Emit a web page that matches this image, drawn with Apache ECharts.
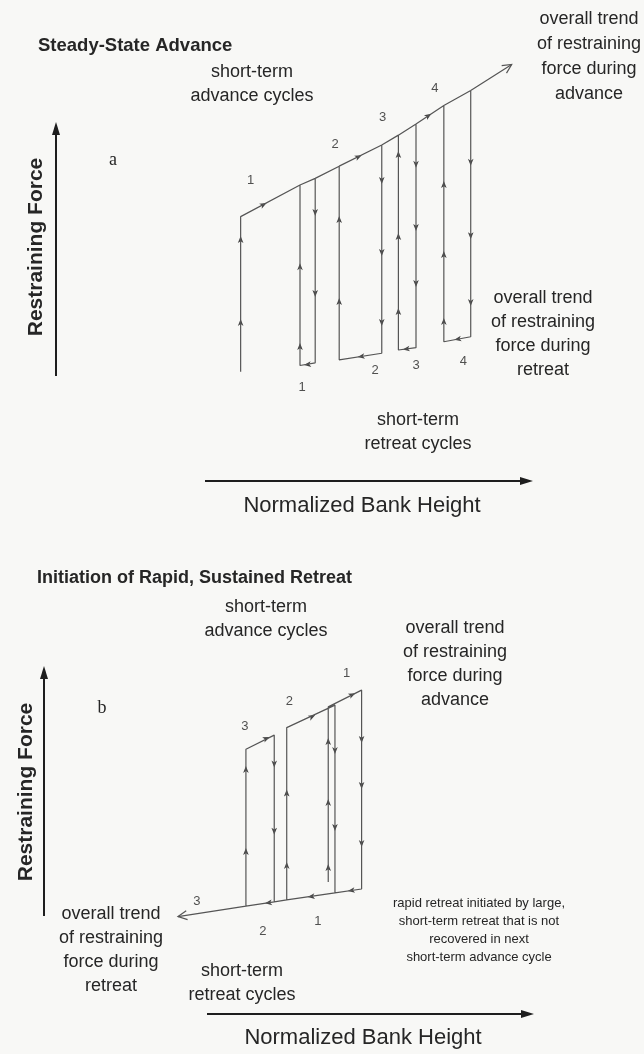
<!DOCTYPE html>
<html>
<head>
<meta charset="utf-8">
<script src="https://cdn.jsdelivr.net/npm/echarts@6/dist/echarts.min.js"></script>
<style>
  html, body { margin: 0; padding: 0; background: #f8f8f6; }
  #chart { width: 644px; height: 1054px; }
</style>
</head>
<body>
<div id="chart"></div>
<script>
// Panel (a) Steady-state advance: bank height (x) vs restraining force (y), arbitrary units 0-100
const pathA = [
  [12.7, 2.5], [12.7, 49.5], [31.25, 59.1], [36.0, 61.1], [36.0, 5.2], [31.25, 4.4],
  [31.25, 59.1], [36.0, 61.1], [43.5, 64.8], [56.8, 71.2], [56.8, 8.1], [43.5, 6.1],
  [43.5, 64.8], [56.8, 71.2], [62.0, 74.2], [67.5, 77.6], [67.5, 9.8], [62.0, 9.1],
  [62.0, 74.2], [67.5, 77.6], [76.2, 83.2], [84.6, 87.7], [84.6, 13.1], [76.2, 11.6],
  [76.2, 83.2], [84.6, 87.7], [97.4, 95.6]
];
// direction markers: [x, y, towardX, towardY]
const arrowsA = [
  [19.7, 53.1, 31.25, 59.1], [49.4, 67.6, 56.8, 71.2], [71.25, 80.0, 76.2, 83.2],
  [12.7, 42.4, 12.7, 49.5], [12.7, 17.3, 12.7, 49.5],
  [31.25, 34.2, 31.25, 59.1], [31.25, 10.0, 31.25, 59.1],
  [36.0, 50.9, 36.0, 5.2], [36.0, 26.4, 36.0, 5.2],
  [43.5, 48.5, 43.5, 64.8], [43.5, 23.6, 43.5, 64.8],
  [56.8, 60.6, 56.8, 8.1], [56.8, 38.8, 56.8, 8.1], [56.8, 17.6, 56.8, 8.1],
  [62.0, 68.2, 62.0, 74.2], [62.0, 43.3, 62.0, 74.2], [62.0, 20.6, 62.0, 74.2],
  [67.5, 65.5, 67.5, 9.8], [67.5, 46.4, 67.5, 9.8], [67.5, 29.4, 67.5, 9.8],
  [76.2, 59.1, 76.2, 83.2], [76.2, 37.9, 76.2, 83.2], [76.2, 17.6, 76.2, 83.2],
  [84.6, 66.1, 84.6, 13.1], [84.6, 43.9, 84.6, 13.1], [84.6, 23.6, 84.6, 13.1],
  [33.75, 4.7, 31.25, 4.4], [50.5, 7.15, 43.5, 6.1], [64.6, 9.43, 62.0, 9.1], [80.7, 12.4, 76.2, 11.6]
];
// open arrow head at the end of the overall trend: [tipX, tipY, fromX, fromY]
const tipsA = [[97.4, 95.6, 84.6, 87.7]];
const cycleLabelsA = [
  ['1', 15.8, 60.6], ['2', 42.2, 71.5], ['3', 57.1, 79.5], ['4', 73.4, 88.4],
  ['1', 31.9, -2.1], ['2', 54.7, 2.8], ['3', 67.5, 4.5], ['4', 82.3, 5.5]
];

// Panel (b) Initiation of rapid, sustained retreat
const pathB = [
  [70.1, 19.3], [70.1, 77.7], [84.0, 83.3], [84.0, 17.0], [72.9, 15.7], [52.8, 13.4],
  [52.8, 70.8], [72.9, 78.3], [72.9, 15.7], [52.8, 13.4], [47.6, 12.7], [35.8, 11.3],
  [35.8, 63.6], [47.6, 68.3], [47.6, 12.7], [35.8, 11.3], [7.5, 7.8]
];
const arrowsB = [
  [44.2, 67.1, 47.6, 68.3], [63.2, 74.4, 72.9, 78.3], [79.9, 81.7, 84.0, 83.3],
  [35.8, 56.7, 35.8, 63.6], [35.8, 29.3, 35.8, 63.6],
  [47.6, 58.8, 47.6, 12.7], [47.6, 36.4, 47.6, 12.7],
  [52.8, 48.8, 52.8, 70.8], [52.8, 24.7, 52.8, 70.8],
  [70.1, 66.0, 70.1, 77.7], [70.1, 45.7, 70.1, 77.7], [70.1, 24.0, 70.1, 77.7],
  [72.9, 63.3, 72.9, 15.7], [72.9, 37.7, 72.9, 15.7],
  [84.0, 67.0, 84.0, 17.0], [84.0, 51.7, 84.0, 17.0], [84.0, 32.3, 84.0, 17.0],
  [79.9, 16.5, 72.9, 15.7], [63.2, 14.5, 52.8, 13.4], [45.4, 12.4, 35.8, 11.3]
];
const tipsB = [[7.5, 7.8, 35.8, 11.3]];
const cycleLabelsB = [
  ['1', 77.8, 88.9], ['2', 53.9, 79.4], ['3', 35.4, 71.1],
  ['3', 15.4, 12.7], ['2', 42.9, 2.7], ['1', 65.8, 6.3]
];

const SANS = '"Liberation Sans", Arial, Helvetica, sans-serif';
const SERIF = '"Liberation Serif", "Times New Roman", serif';
const LINE = '#555';
const INK = '#262626';

function arrowSeries(data, idx) {
  return {
    type: 'custom', xAxisIndex: idx, yAxisIndex: idx, data: data, clip: false,
    encode: { x: 0, y: 1 },
    renderItem: function (params, api) {
      const p = api.coord([api.value(0), api.value(1)]);
      const q = api.coord([api.value(2), api.value(3)]);
      const len = Math.hypot(q[0] - p[0], q[1] - p[1]) || 1;
      const ux = (q[0] - p[0]) / len, uy = (q[1] - p[1]) / len;
      const nx = -uy, ny = ux;
      const pts = [
        [p[0] + ux * 4, p[1] + uy * 4],
        [p[0] - ux * 3 + nx * 2.8, p[1] - uy * 3 + ny * 2.8],
        [p[0] - ux * 1.2, p[1] - uy * 1.2],
        [p[0] - ux * 3 - nx * 2.8, p[1] - uy * 3 - ny * 2.8]
      ];
      return { type: 'polygon', shape: { points: pts }, style: { fill: '#444' } };
    }
  };
}

function tipSeries(data, idx) {
  return {
    type: 'custom', xAxisIndex: idx, yAxisIndex: idx, data: data, clip: false,
    encode: { x: 0, y: 1 },
    renderItem: function (params, api) {
      const p = api.coord([api.value(0), api.value(1)]);
      const q = api.coord([api.value(2), api.value(3)]);
      const len = Math.hypot(p[0] - q[0], p[1] - q[1]) || 1;
      const ux = (p[0] - q[0]) / len, uy = (p[1] - q[1]) / len;
      const nx = -uy, ny = ux;
      return {
        type: 'polyline',
        shape: { points: [
          [p[0] - ux * 9 + nx * 4.5, p[1] - uy * 9 + ny * 4.5],
          [p[0], p[1]],
          [p[0] - ux * 9 - nx * 4.5, p[1] - uy * 9 - ny * 4.5]
        ] },
        style: { stroke: LINE, lineWidth: 1.2, fill: null }
      };
    }
  };
}

function pathSeries(data, idx) {
  return {
    type: 'line', xAxisIndex: idx, yAxisIndex: idx, data: data,
    showSymbol: false, clip: false, silent: true,
    lineStyle: { color: LINE, width: 1.2 }
  };
}

function labelSeries(list, idx) {
  return {
    type: 'scatter', xAxisIndex: idx, yAxisIndex: idx, symbolSize: 0, clip: false,
    data: list.map(d => ({ name: d[0], value: [d[1], d[2]] })),
    label: { show: true, position: 'inside', formatter: '{b}', fontFamily: SANS, fontSize: 13, color: INK }
  };
}

function txt(text, x, y, opt) {
  opt = opt || {};
  return {
    type: 'text', x: x, y: y, rotation: opt.rotation || 0,
    style: {
      text: text, textAlign: opt.align || 'center', textVerticalAlign: 'middle',
      fontFamily: opt.family || SANS, fontSize: opt.size || 18,
      fontWeight: opt.bold ? 'bold' : 'normal', lineHeight: opt.lh || 22, fill: INK
    }
  };
}

function axisArrow(x1, y1, x2, y2) {
  const len = Math.hypot(x2 - x1, y2 - y1);
  const ux = (x2 - x1) / len, uy = (y2 - y1) / len;
  const nx = -uy, ny = ux;
  return [
    { type: 'line', shape: { x1: x1, y1: y1, x2: x2 - ux * 8, y2: y2 - uy * 8 },
      style: { stroke: '#1e1e1e', lineWidth: 2 } },
    { type: 'polygon', shape: { points: [
        [x2, y2], [x2 - ux * 13 + nx * 4, y2 - uy * 13 + ny * 4], [x2 - ux * 13 - nx * 4, y2 - uy * 13 - ny * 4]
      ] }, style: { fill: '#1e1e1e' } }
  ];
}

const chart = echarts.init(document.getElementById('chart'), null, { renderer: 'canvas' });
const hiddenAxis = { type: 'value', min: 0, max: 100, show: false };

chart.setOption({
  backgroundColor: '#f8f8f6',
  animation: false,
  grid: [
    { left: 200, top: 50, width: 320, height: 330 },
    { left: 160, top: 640, width: 240, height: 300 }
  ],
  xAxis: [Object.assign({ gridIndex: 0 }, hiddenAxis), Object.assign({ gridIndex: 1 }, hiddenAxis)],
  yAxis: [Object.assign({ gridIndex: 0 }, hiddenAxis), Object.assign({ gridIndex: 1 }, hiddenAxis)],
  series: [
    pathSeries(pathA, 0), arrowSeries(arrowsA, 0), tipSeries(tipsA, 0), labelSeries(cycleLabelsA, 0),
    pathSeries(pathB, 1), arrowSeries(arrowsB, 1), tipSeries(tipsB, 1), labelSeries(cycleLabelsB, 1)
  ],
  graphic: [
    // panel (a)
    txt('Steady-State Advance', 38, 46, { align: 'left', bold: true, size: 18.5 }),
    txt('short-term\nadvance cycles', 252, 84, { lh: 24 }),
    txt('overall trend\nof restraining\nforce during\nadvance', 589, 57, { lh: 25 }),
    txt('a', 113, 160, { family: SERIF, size: 18 }),
    txt('overall trend\nof restraining\nforce during\nretreat', 543, 334, { lh: 24 }),
    txt('short-term\nretreat cycles', 418, 432, { lh: 24 }),
    txt('Normalized Bank Height', 362, 506, { size: 22 }),
    txt('Restraining Force', 36, 247, { bold: true, size: 21, rotation: Math.PI / 2 }),
    ...axisArrow(56, 376, 56, 122),
    ...axisArrow(205, 481, 533, 481),
    // panel (b)
    txt('Initiation of Rapid, Sustained Retreat', 37, 578, { align: 'left', bold: true, size: 18 }),
    txt('short-term\nadvance cycles', 266, 619, { lh: 24 }),
    txt('overall trend\nof restraining\nforce during\nadvance', 455, 664, { lh: 24 }),
    txt('b', 102, 708, { family: SERIF, size: 18 }),
    txt('overall trend\nof restraining\nforce during\nretreat', 111, 950, { lh: 24 }),
    txt('short-term\nretreat cycles', 242, 983, { lh: 24 }),
    txt('rapid retreat initiated by large,\nshort-term retreat that is not\nrecovered in next\nshort-term advance cycle', 479, 930, { size: 13, lh: 18 }),
    txt('Normalized Bank Height', 363, 1038, { size: 22 }),
    txt('Restraining Force', 26, 792, { bold: true, size: 21, rotation: Math.PI / 2 }),
    ...axisArrow(44, 916, 44, 666),
    ...axisArrow(207, 1014, 534, 1014)
  ]
});
</script>
</body>
</html>
